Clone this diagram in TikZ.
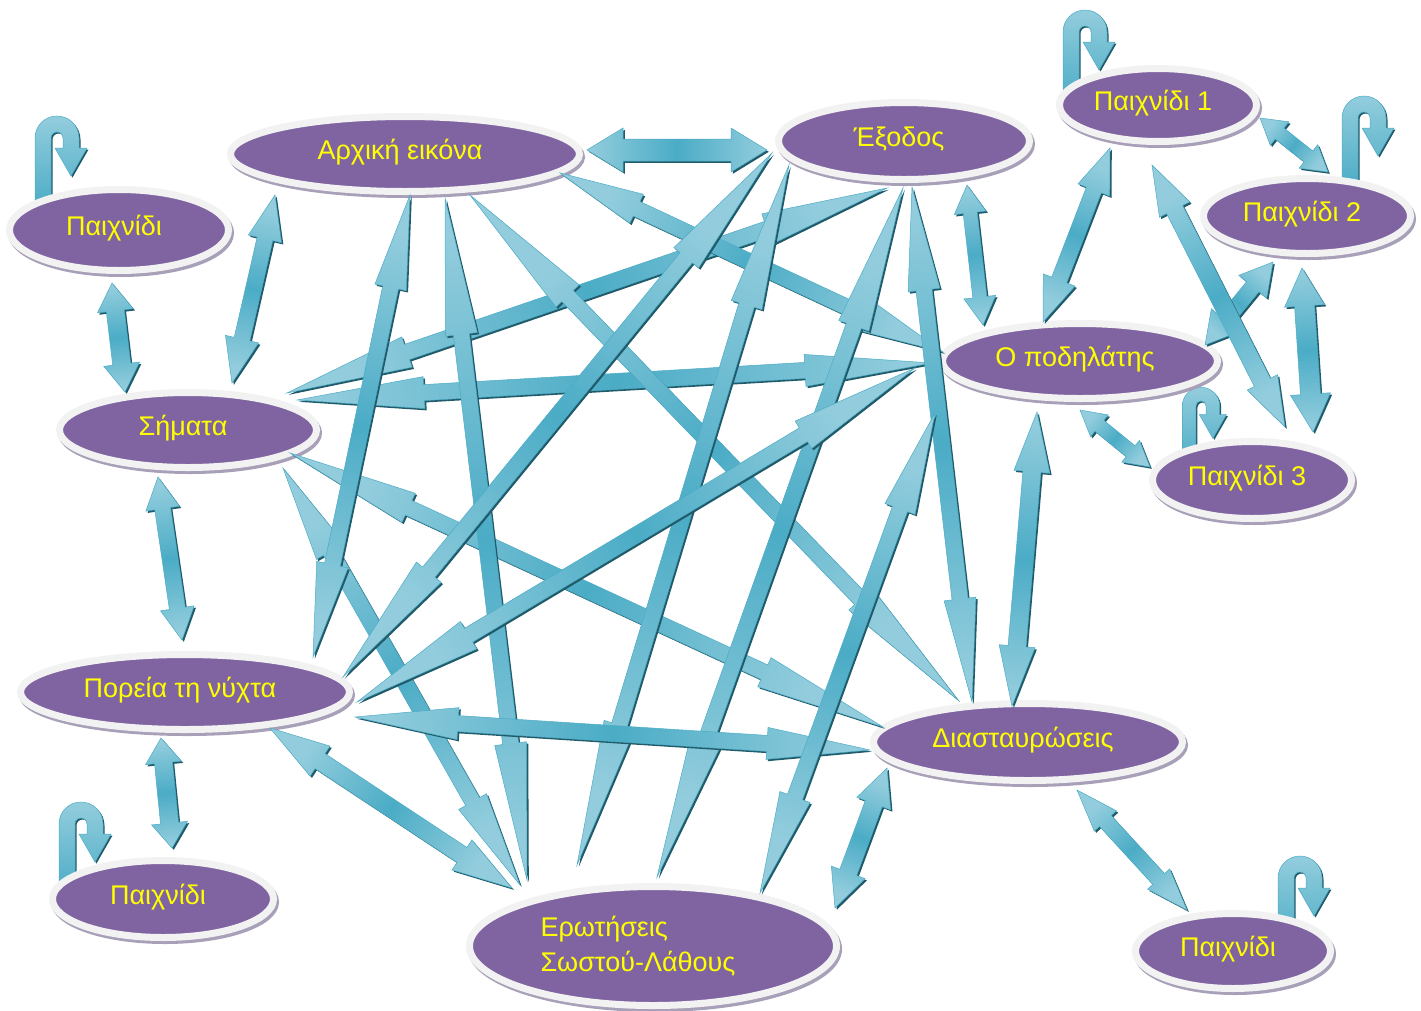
\documentclass[tikz,border=0pt]{standalone}
\usepackage{fontspec}
\setmainfont{Liberation Sans}
\usetikzlibrary{calc,shapes.geometric,backgrounds}
\definecolor{nodepurple}{HTML}{8064A2}
\definecolor{rimwhite}{HTML}{F2F2F2}
\definecolor{rimshadow}{HTML}{A8A0B8}
\definecolor{arrlight}{HTML}{93CDDD}
\definecolor{arrmid}{HTML}{4BACC6}
\definecolor{arrdark}{HTML}{215A69}
\definecolor{arredge}{HTML}{4BACC6}
\definecolor{txtyellow}{HTML}{FFFF00}

% #1 node A, #2 offset A, #3 node B, #4 offset B, #5 head length, #6 head half width, #7 shaft half width
\newcommand\conn[7]{%
 \path ($(#1)+(#2)$) coordinate (qa) ($(#3)+(#4)$) coordinate (qb);%
 \pgfmathanglebetweenpoints{\pgfpointanchor{qa}{center}}{\pgfpointanchor{qb}{center}}%
 \pgfmathsetmacro\qsh{\pgfmathresult+90}%
 \fill[arrdark,transform canvas={shift={(1.8pt,-1.8pt)}}] (qa) -- ($(qa)!#5!(qb)!#6!90:(qb)$) -- ($(qa)!#5!(qb)!#7!90:(qb)$) -- ($(qb)!#5!(qa)!#7!-90:(qa)$) -- ($(qb)!#5!(qa)!#6!-90:(qa)$) -- (qb) -- ($(qb)!#5!(qa)!#6!90:(qa)$) -- ($(qb)!#5!(qa)!#7!90:(qa)$) -- ($(qa)!#5!(qb)!#7!-90:(qb)$) -- ($(qa)!#5!(qb)!#6!-90:(qb)$) -- cycle;%
 \shade[top color=arrlight,bottom color=arrlight,middle color=arrmid,shading angle=\qsh,draw=arredge,line width=0.5pt] (qa) -- ($(qa)!#5!(qb)!#6!90:(qb)$) -- ($(qa)!#5!(qb)!#7!90:(qb)$) -- ($(qb)!#5!(qa)!#7!-90:(qa)$) -- ($(qb)!#5!(qa)!#6!-90:(qa)$) -- (qb) -- ($(qb)!#5!(qa)!#6!90:(qa)$) -- ($(qb)!#5!(qa)!#7!90:(qa)$) -- ($(qa)!#5!(qb)!#7!-90:(qb)$) -- ($(qa)!#5!(qb)!#6!-90:(qb)$) -- cycle;%
}
% U-turn arrow: #1 node, #2 offset of arc centre, #3 scale
\newcommand\uturn[3]{%
 \begin{scope}[shift={($(#1)+(#2)$)},scale=#3]
 \fill[arrdark,transform canvas={shift={(1.5pt,-1.5pt)}}] (-22,70) -- (-22,0) arc[start angle=180,end angle=360,radius=22] -- (22,10) -- (30,10) -- (14,38) -- (-2,10) -- (6,10) -- (6,0) arc[start angle=0,end angle=-180,radius=6] -- (-6,70) -- cycle;
 \shade[top color=arrlight,bottom color=arrmid,draw=arredge,line width=0.5pt] (-22,70) -- (-22,0) arc[start angle=180,end angle=360,radius=22] -- (22,10) -- (30,10) -- (14,38) -- (-2,10) -- (6,10) -- (6,0) arc[start angle=0,end angle=-180,radius=6] -- (-6,70) -- cycle;
 \end{scope}}

\tikzset{
 pnode/.style={ellipse, fill=nodepurple, draw=rimwhite, line width=7pt, text=txtyellow,
   font=\fontsize{27}{35}\selectfont, inner sep=0pt,
   execute at end node={\hspace*{10pt}},
   preaction={draw=rimshadow, fill=rimshadow, line width=7pt, transform canvas={shift={(2pt,-3pt)}}}},
 onel/.style={text height=20pt, text depth=10pt},
}

\begin{document}
\begin{tikzpicture}[x=1pt,y=-1pt]
\useasboundingbox (0,0) rectangle (1421,1010);

% nodes
\node[pnode, onel, minimum width=219pt, minimum height=81pt] (p0) at (119,230) {Παιχνίδι};
\node[pnode, onel, minimum width=349pt, minimum height=75pt] (arx) at (405,154) {Αρχική εικόνα};
\node[pnode, onel, minimum width=251pt, minimum height=77pt] (exo) at (904,141) {Έξοδος};
\node[pnode, onel, minimum width=197pt, minimum height=73pt] (p1) at (1158,105) {Παιχνίδι 1};
\node[pnode, onel, minimum width=207pt, minimum height=75pt] (p2) at (1307,216) {Παιχνίδι 2};
\node[pnode, onel, minimum width=257pt, minimum height=75pt] (sim) at (188,430) {Σήματα};
\node[pnode, onel, minimum width=275pt, minimum height=75pt] (pod) at (1080,361) {Ο ποδηλάτης};
\node[pnode, onel, minimum width=199pt, minimum height=77pt] (p3) at (1252,480) {Παιχνίδι 3};
\node[pnode, onel, minimum width=329pt, minimum height=75pt] (por) at (185,692) {Πορεία τη νύχτα};
\node[pnode, onel, minimum width=309pt, minimum height=77pt] (dia) at (1028,742) {Διασταυρώσεις};
\node[pnode, onel, minimum width=221pt, minimum height=77pt] (pbl) at (163,899) {Παιχνίδι};
\node[pnode, minimum width=367pt, minimum height=119pt, align=left] (ero) at (653,946) {Ερωτήσεις\\Σωστού-Λάθους\hspace*{20pt}};
\node[pnode, onel, minimum width=195pt, minimum height=75pt] (pbr) at (1233,951) {Παιχνίδι};

% background and U-turn arrows
\begin{scope}[on background layer]
\fill[white] (0,0) rectangle (1421,1010);
\uturn{p0}{-62,-92}{1}
\uturn{p1}{-73,-73}{1}
\uturn{p2}{57,-98}{1}
\uturn{p3}{-51,-74}{0.85}
\uturn{pbl}{-82,-75}{1}
\uturn{pbr}{67,-73}{1}
\end{scope}

% long connectors
\conn{sim}{99,-37}{exo}{-17,47}{0.2}{16pt}{8pt}
\conn{sim}{109,-30}{pod}{-148,2}{0.2}{16pt}{8pt}
\conn{sim}{102,23}{dia}{-145,-15}{0.2}{16pt}{8pt}
\conn{sim}{95,38}{ero}{-133,-61}{0.2}{16pt}{8pt}
\conn{arx}{5,41}{por}{128,-35}{0.2}{16pt}{8pt}
\conn{arx}{40,44}{ero}{-126,-66}{0.2}{16pt}{8pt}
\conn{arx}{65,41}{dia}{-70,-42}{0.2}{16pt}{8pt}
\conn{arx}{155,19}{pod}{-137,-9}{0.2}{16pt}{8pt}
\conn{exo}{-132,12}{por}{158,-15}{0.2}{16pt}{8pt}
\conn{exo}{-115,24}{ero}{-76,-81}{0.2}{16pt}{8pt}
\conn{exo}{-1,47}{ero}{4,-69}{0.2}{16pt}{8pt}
\conn{exo}{8,46}{dia}{-56,-40}{0.2}{16pt}{8pt}
\conn{por}{172,10}{pod}{-165,7}{0.2}{16pt}{8pt}
\conn{por}{170,25}{dia}{-158,8}{0.2}{16pt}{8pt}
\conn{ero}{107,-53}{pod}{-145,52}{0.2}{16pt}{8pt}

% short connectors
\conn{arx}{182,-4}{exo}{-137,9}{36pt}{22pt}{11pt}
\conn{p0}{-7,53}{sim}{-63,-38}{28pt}{18pt}{9pt}
\conn{sim}{44,-47}{arx}{-130,41}{45pt}{17pt}{8pt}
\conn{sim}{-30,47}{por}{-3,-52}{32pt}{17pt}{8pt}
\conn{por}{-24,46}{pbl}{9,-51}{25pt}{18pt}{9pt}
\conn{exo}{63,44}{pod}{-97,-36}{28pt}{16pt}{7pt}
\conn{p1}{-48,43}{pod}{-37,-39}{45pt}{17pt}{8pt}
\conn{p1}{102,13}{p2}{21,-44}{25pt}{15pt}{7pt}
\conn{p2}{-34,46}{pod}{125,-16}{32pt}{18pt}{8pt}
\conn{p2}{-5,52}{p3}{61,-48}{38pt}{20pt}{10pt}
\conn{p1}{-6,60}{p3}{33,-53}{50pt}{17pt}{9pt}
\conn{pod}{0,49}{p3}{-102,-13}{25pt}{14pt}{7pt}
\conn{pod}{-43,51}{dia}{-16,-36}{60pt}{18pt}{9pt}
\conn{dia}{-141,26}{ero}{182,-38}{38pt}{18pt}{9pt}
\conn{dia}{49,48}{pbr}{-46,-41}{42pt}{15pt}{8pt}
\conn{por}{85,36}{ero}{-141,-58}{60pt}{18pt}{9pt}
\end{tikzpicture}
\end{document}
